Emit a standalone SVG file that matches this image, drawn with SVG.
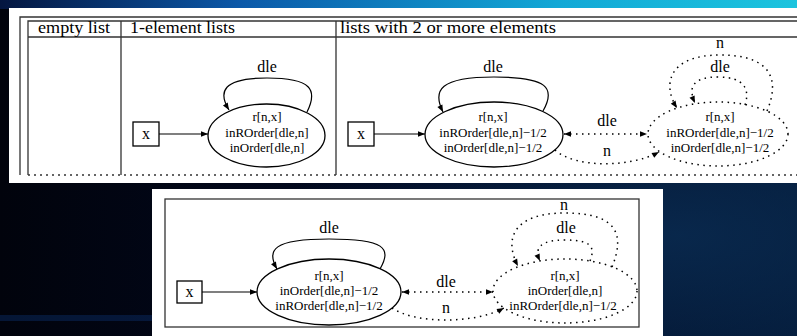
<svg xmlns="http://www.w3.org/2000/svg" width="797" height="336" viewBox="0 0 797 336">
<style>
text{font-family:"Liberation Serif","Times New Roman",serif;fill:#000}
.hd{font-size:16px}
.lb{font-size:16px;text-anchor:middle}
.nt{font-size:13px;text-anchor:middle}
.frame{stroke:#333;stroke-width:1.3;fill:none}
.sol{stroke:#000;stroke-width:1.2;fill:none}
.dot{stroke:#000;stroke-width:1.5;fill:none;stroke-dasharray:1.5 4.5}
.nd{stroke:#000;stroke-width:1.3;fill:#fff}
.ndd{stroke:#000;stroke-width:1.5;fill:#fff;stroke-dasharray:1.5 4.5}
</style>
<defs>
<linearGradient id="band" x1="0" y1="0" x2="1" y2="0">
<stop offset="0" stop-color="#041640"/>
<stop offset="0.3" stop-color="#0b58a8"/>
<stop offset="0.7" stop-color="#12a8d6"/>
<stop offset="1" stop-color="#1cc4de"/>
</linearGradient>
<linearGradient id="bg" x1="0" y1="0" x2="1" y2="0">
<stop offset="0" stop-color="#01030c"/>
<stop offset="0.5" stop-color="#020a22"/>
<stop offset="1" stop-color="#041a38"/>
</linearGradient>
<radialGradient id="glow" cx="0.85" cy="0.7" r="0.5">
<stop offset="0" stop-color="#0a2c52" stop-opacity="0.8"/>
<stop offset="1" stop-color="#0a2c52" stop-opacity="0"/>
</radialGradient>
<marker id="ah" viewBox="0 0 10 10" refX="10" refY="5" markerWidth="8" markerHeight="7" markerUnits="userSpaceOnUse" orient="auto-start-reverse">
<path d="M0,1 L10,5 L0,9 z" fill="#000"/>
</marker>
</defs>

<!-- background -->
<rect x="0" y="0" width="797" height="336" fill="url(#bg)"/>
<rect x="0" y="0" width="797" height="336" fill="url(#glow)"/>
<rect x="0" y="0" width="797" height="9" fill="url(#band)"/>
<rect x="0" y="315" width="160" height="6" fill="#0a2a60" opacity="0.5"/>

<!-- top panel -->
<g id="top-panel">
<rect x="9" y="8" width="788" height="175" fill="#fff"/>
<path class="frame" d="M20,175 V17 H797 M28,175 V21 H797 M28,37 H797 M121,21 V175 M336,21 V175"/>
<path class="frame" d="M28,175 H797" stroke-dasharray="2 4"/>
<text class="hd" x="38" y="33" textLength="72" lengthAdjust="spacingAndGlyphs">empty list</text>
<text class="hd" x="130" y="33" textLength="105" lengthAdjust="spacingAndGlyphs">1-element lists</text>
<text class="hd" x="340" y="33" textLength="216" lengthAdjust="spacingAndGlyphs">lists with 2 or more elements</text>
</g>

<g id="t1-x">
<rect x="133" y="122" width="26" height="24" class="nd"/>
<text class="lb" x="146" y="139">x</text>
</g>
<g id="t1-node">
<ellipse cx="266.5" cy="135.5" rx="58.5" ry="31.5" class="nd"/>
<text class="nt" x="267" y="121">r[n,x]</text>
<text class="nt" x="267" y="137">inROrder[dle,n]</text>
<text class="nt" x="267" y="152">inOrder[dle,n]</text>
</g>

<g id="t2-x">
<rect x="348" y="122" width="26" height="24" class="nd"/>
<text class="lb" x="361" y="139">x</text>
</g>
<g id="t2-node1">
<ellipse cx="494" cy="134.5" rx="69" ry="32.5" class="nd"/>
<text class="nt" x="493" y="121">r[n,x]</text>
<text class="nt" x="493" y="137">inROrder[dle,n]−1/2</text>
<text class="nt" x="493" y="152">inOrder[dle,n]−1/2</text>
</g>
<g id="t2-node2">
<ellipse cx="718" cy="134" rx="70" ry="32" class="ndd"/>
<text class="nt" x="720" y="121">r[n,x]</text>
<text class="nt" x="720" y="137">inROrder[dle,n]−1/2</text>
<text class="nt" x="720" y="152">inOrder[dle,n]−1/2</text>
</g>

<!-- bottom panel -->
<g id="bottom-panel">
<rect x="152" y="189" width="511" height="147" fill="#fff"/>
<rect x="165" y="199" width="474" height="128" class="frame"/>
</g>
<g id="b-x">
<rect x="177" y="281" width="25" height="22" class="nd"/>
<text class="lb" x="189.5" y="297">x</text>
</g>
<g id="b-node1">
<ellipse cx="329" cy="292" rx="72" ry="33" class="nd"/>
<text class="nt" x="329" y="280">r[n,x]</text>
<text class="nt" x="329" y="295">inOrder[dle,n]−1/2</text>
<text class="nt" x="329" y="310">inROrder[dle,n]−1/2</text>
</g>
<g id="b-node2">
<ellipse cx="565" cy="291" rx="72" ry="32" class="ndd"/>
<text class="nt" x="565" y="280">r[n,x]</text>
<text class="nt" x="565" y="295">inOrder[dle,n]</text>
<text class="nt" x="563" y="310">inROrder[dle,n]−1/2</text>
</g>

<g id="connectors">
<!-- top 1-element -->
<path class="sol" d="M159,134 H208" marker-end="url(#ah)"/>
<path class="sol" d="M307,112 C318,90 312,78 267,78 C222,78 218,92 229,110" marker-end="url(#ah)"/>
<!-- top 2+ -->
<path class="sol" d="M374,134 H425" marker-end="url(#ah)"/>
<path class="sol" d="M543,111 C556,88 548,77 494,77 C440,77 432,90 443,112" marker-end="url(#ah)"/>
<path class="dot" d="M564,134 H647" marker-start="url(#ah)" marker-end="url(#ah)"/>
<path class="dot" d="M555,150 C575,168 630,168 659,152" marker-end="url(#ah)"/>
<path class="dot" d="M745,105 C750,90 745,77 718,77 C692,77 688,88 695,103" marker-end="url(#ah)"/>
<path class="dot" d="M767,111 C780,80 772,55 720,55 C668,55 662,85 677,108" marker-end="url(#ah)"/>
<!-- bottom -->
<path class="sol" d="M202,292 H257" marker-end="url(#ah)"/>
<path class="sol" d="M380,269 C392,248 385,239 329,239 C273,239 266,250 277,269" marker-end="url(#ah)"/>
<path class="dot" d="M402,292 H493" marker-start="url(#ah)" marker-end="url(#ah)"/>
<path class="dot" d="M392,308 C415,324 475,324 504,308" marker-end="url(#ah)"/>
<path class="dot" d="M590,261 C596,246 590,240 565,240 C540,240 534,248 540,261" marker-end="url(#ah)"/>
<path class="dot" d="M612,267 C625,235 618,213 565,213 C512,213 504,240 518,266" marker-end="url(#ah)"/>
</g>

<g id="labels">
<text class="lb" x="267" y="72">dle</text>
<text class="lb" x="493" y="72">dle</text>
<text class="lb" x="607" y="126">dle</text>
<text class="lb" x="607" y="156">n</text>
<text class="lb" x="720" y="72">dle</text>
<text class="lb" x="720" y="48">n</text>
<text class="lb" x="329" y="233">dle</text>
<text class="lb" x="446" y="287">dle</text>
<text class="lb" x="446" y="313">n</text>
<text class="lb" x="566" y="233">dle</text>
<text class="lb" x="564" y="210">n</text>
</g>
</svg>
